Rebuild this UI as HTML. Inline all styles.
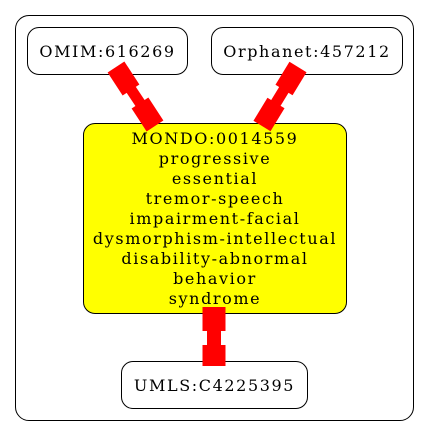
<!DOCTYPE html>
<html><head><style>
body{margin:0;background:#fff;width:429px;height:436px;overflow:hidden}
.n{position:absolute;border:1px solid #000;border-radius:12px;box-sizing:border-box;display:flex;align-items:center;justify-content:center;font-family:"DejaVu Serif",serif;font-size:16px;letter-spacing:1.6px;text-align:center}
</style></head><body>
<div style="position:absolute;left:15px;top:15px;width:399px;height:406px;border:1px solid #000;border-radius:14px;box-sizing:border-box"></div>
<div class="n" style="left:27px;top:27px;width:161px;height:48px">OMIM:616269</div>
<div class="n" style="left:211px;top:27px;width:192px;height:48px">Orphanet:457212</div>
<div class="n" style="left:83px;top:123px;width:264px;height:191px;background:#ff0;line-height:20px">MONDO:0014559<br>progressive<br>essential<br>tremor-speech<br>impairment-facial<br>dysmorphism-intellectual<br>disability-abnormal<br>behavior<br>syndrome</div>
<div class="n" style="left:121px;top:361px;width:187px;height:48px">UMLS:C4225395</div>
<svg width="429" height="436" style="position:absolute;left:0;top:0">
<g stroke="#f00" stroke-linecap="butt">
<line x1="116" y1="67" x2="131" y2="90" stroke-width="20"/>
<line x1="130" y1="88" x2="142" y2="106" stroke-width="11"/>
<line x1="140" y1="103" x2="155" y2="126" stroke-width="20"/>
<line x1="298" y1="67" x2="284" y2="90" stroke-width="20"/>
<line x1="285" y1="88" x2="274" y2="106" stroke-width="11"/>
<line x1="276" y1="103" x2="262" y2="126" stroke-width="20"/>
<line x1="214" y1="307" x2="214" y2="331" stroke-width="23"/>
<line x1="214" y1="330" x2="214" y2="346" stroke-width="14"/>
<line x1="214" y1="345" x2="214" y2="366" stroke-width="23"/>
</g></svg>
</body></html>
